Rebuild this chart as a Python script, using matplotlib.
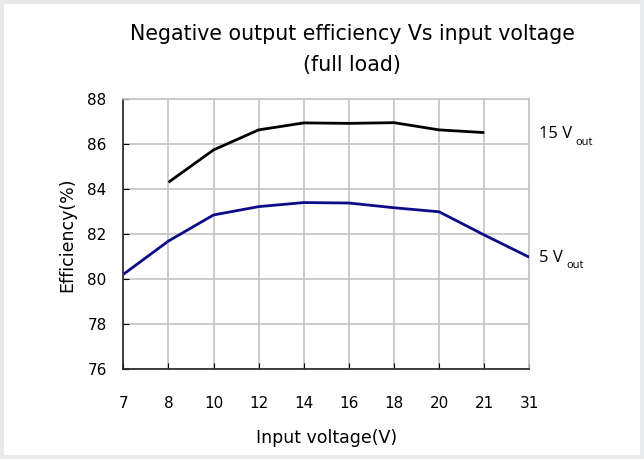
import numpy as np
import matplotlib
matplotlib.use("Agg")
import matplotlib.pyplot as plt
from matplotlib.patches import Rectangle

voltages = ["7", "8", "10", "12", "14", "16", "18", "20", "21", "31"]
eff_15v = [np.nan, 84.31, 85.75, 86.64, 86.95, 86.93, 86.96, 86.64, 86.52, np.nan]
eff_5v = [80.22, 81.70, 82.86, 83.23, 83.41, 83.39, 83.18, 83.00, 81.97, 80.98]

plt.rcParams["font.family"] = ["DejaVu Sans"]

fig = plt.figure(figsize=(6.44, 4.59), dpi=100)
fig.patch.set_facecolor("#e8e9eb")
fig.patches.append(Rectangle((4 / 644, 4 / 459), 636 / 644, 451 / 459,
                             transform=fig.transFigure, facecolor="white",
                             edgecolor="none", zorder=-5))

ax = fig.add_axes([0.1915, 0.1954, 0.6305, 0.5883])
ax.patch.set_alpha(0)
x = np.arange(len(voltages))
ax.plot(x, eff_15v, color="black", lw=2.0, solid_capstyle="butt",
        solid_joinstyle="round", zorder=3)
ax.plot(x, eff_5v, color="#0c0c88", lw=2.0, solid_capstyle="butt",
        solid_joinstyle="round", zorder=3)

ax.set_xlim(0, len(voltages) - 1)
ax.set_ylim(76, 88)
ax.set_xticks(x)
ax.set_xticklabels(voltages)
ax.set_yticks(np.arange(76, 89, 2))
ax.grid(True, color="#c4c4c4", lw=1.2)
ax.set_axisbelow(True)
for s in ("top", "right"):
    ax.spines[s].set_color("#c4c4c4")
    ax.spines[s].set_linewidth(1.2)
for s in ("left", "bottom"):
    ax.spines[s].set_color("#222222")
    ax.spines[s].set_linewidth(1.2)
ax.tick_params(axis="x", direction="in", length=4, pad=19, labelsize=11)
ax.tick_params(axis="y", direction="in", length=4, pad=12, labelsize=11)
ax.set_xlabel("Input voltage(V)", fontsize=12.5, labelpad=13)
ax.set_ylabel("Efficiency(%)", fontsize=12.5, labelpad=8)

ax.text(9.22, 86.46, "15 V", fontsize=12, family="Open Sans", va="center",
        ha="left", clip_on=False)
ax.text(10.03, 86.06, "out", fontsize=8, family="Open Sans", va="center",
        ha="left", clip_on=False)
ax.text(9.22, 80.95, "5 V", fontsize=12, family="Open Sans", va="center",
        ha="left", clip_on=False)
ax.text(9.81, 80.6, "out", fontsize=8, family="Open Sans", va="center",
        ha="left", clip_on=False)

fig.text(0.547, 0.926, "Negative output efficiency Vs input voltage",
         ha="center", va="center", fontsize=14.8)
fig.text(0.547, 0.859, "(full load)", ha="center", va="center", fontsize=14.8)

fig.savefig("out.png", dpi=100)
